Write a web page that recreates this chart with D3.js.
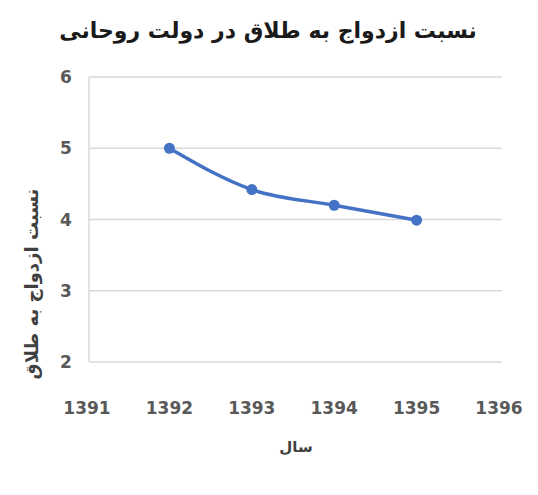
<!DOCTYPE html>
<html><head><meta charset="utf-8">
<script src="https://cdn.jsdelivr.net/npm/d3@7"></script>
<style>body{margin:0;background:#fff;}svg{display:block;}</style>
</head><body>
<svg id="c" width="538" height="495"></svg>
<script>
const years = [1392, 1393, 1394, 1395];
const ratios = [5.0, 4.42, 4.2, 3.99];
const xTicks = [1391, 1392, 1393, 1394, 1395, 1396];
const yTicks = [2, 3, 4, 5, 6];
const title = "نسبت ازدواج به طلاق در دولت روحانی";
const yTitle = "نسبت ازدواج به طلاق";
const xTitle = "سال";

const svg = d3.select("#c");
const x = d3.scaleLinear().domain([1391, 1396]).range([87, 499]);
const y = d3.scaleLinear().domain([2, 6]).range([362, 77]);
const font = "'DejaVu Sans', 'Noto Sans', sans-serif";

// gridlines
svg.append("g").selectAll("line").data(yTicks).join("line")
  .attr("x1", 89).attr("x2", 502)
  .attr("y1", d => y(d)).attr("y2", d => y(d))
  .attr("stroke", "#d9d9d9").attr("stroke-width", 1.5);
// left axis line
svg.append("line").attr("x1", 89).attr("x2", 89).attr("y1", y(6)).attr("y2", y(2))
  .attr("stroke", "#d9d9d9").attr("stroke-width", 1.5);

// tick labels
svg.append("g").selectAll("text").data(yTicks).join("text")
  .attr("x", 66).attr("y", d => y(d)).attr("dy", "0.36em")
  .attr("text-anchor", "middle").attr("fill", "#595959")
  .attr("font-family", font).attr("font-size", 17).attr("font-weight", "bold")
  .text(d => d);
svg.append("g").selectAll("text").data(xTicks).join("text")
  .attr("x", d => x(d)).attr("y", 414)
  .attr("text-anchor", "middle").attr("fill", "#595959")
  .attr("font-family", font).attr("font-size", 17).attr("font-weight", "bold")
  .text(d => d);

// line
const line = d3.line().x((d, i) => x(years[i])).y(d => y(d)).curve(d3.curveMonotoneX);
svg.append("path").datum(ratios).attr("d", line)
  .attr("fill", "none").attr("stroke", "#4472C4").attr("stroke-width", 3.5);
svg.append("g").selectAll("circle").data(ratios).join("circle")
  .attr("cx", (d, i) => x(years[i])).attr("cy", d => y(d)).attr("r", 5.5)
  .attr("fill", "#4472C4");

// titles
svg.append("text").attr("x", 268).attr("y", 38).attr("text-anchor", "middle")
  .attr("direction", "rtl").attr("font-family", font).attr("font-size", 22).attr("font-weight", "bold")
  .attr("fill", "#1a1a1a").text(title);
svg.append("text").attr("transform", "translate(38,284) rotate(-90)")
  .attr("text-anchor", "middle").attr("direction", "rtl").attr("font-family", font)
  .attr("font-size", 18).attr("font-weight", "bold").attr("fill", "#404040").text(yTitle);
svg.append("text").attr("x", 296).attr("y", 452).attr("text-anchor", "middle")
  .attr("direction", "rtl").attr("font-family", font).attr("font-size", 15).attr("font-weight", "bold")
  .attr("fill", "#404040").text(xTitle);
</script>
</body></html>
